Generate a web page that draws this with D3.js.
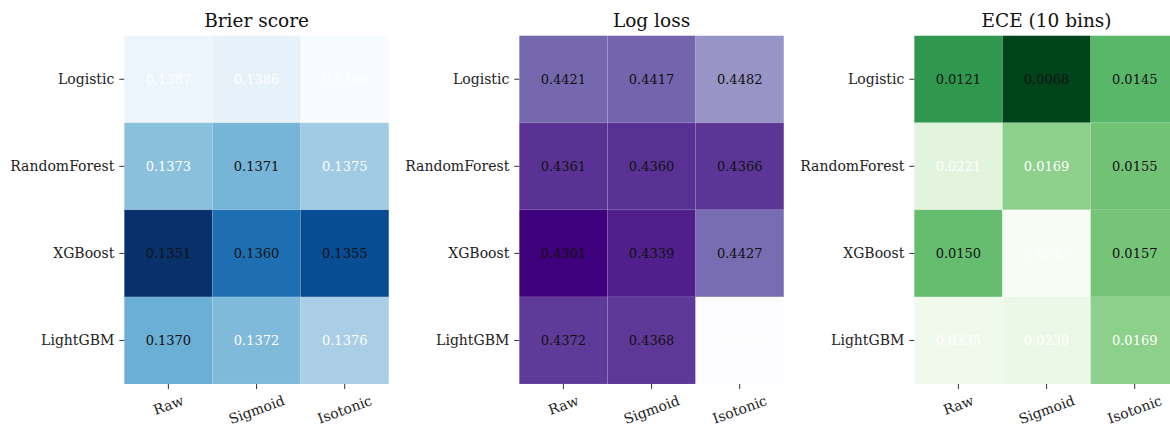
<!DOCTYPE html>
<html>
<head>
<meta charset="utf-8">
<script src="https://cdn.jsdelivr.net/npm/d3@7/dist/d3.min.js"></script>
<style>
  html, body { margin: 0; padding: 0; background: #fff; }
  svg { display: block; font-family: "DejaVu Serif", serif; }
</style>
</head>
<body>
<svg id="chart" width="1170" height="427"></svg>
<script>
// Models (rows) and calibration methods (columns)
const models = ["Logistic", "RandomForest", "XGBoost", "LightGBM"];
const methods = ["Raw", "Sigmoid", "Isotonic"];

// Metric values, one row per model, one column per method
const brierValues = [
  [0.1387, 0.1386, 0.1389],
  [0.1373, 0.1371, 0.1375],
  [0.1351, 0.1360, 0.1355],
  [0.1370, 0.1372, 0.1376]
];
const logLossValues = [
  [0.4421, 0.4417, 0.4482],
  [0.4361, 0.4360, 0.4366],
  [0.4301, 0.4339, 0.4427],
  [0.4372, 0.4368, 0.4683]
];
const eceValues = [
  [0.0121, 0.0068, 0.0145],
  [0.0221, 0.0169, 0.0155],
  [0.0150, 0.0245, 0.0157],
  [0.0235, 0.0230, 0.0169]
];

const panelTitles = ["Brier score", "Log loss", "ECE (10 bins)"];

const panels = [
  { title: panelTitles[0], values: brierValues, scheme: d3.schemeBlues[9] },
  { title: panelTitles[1], values: logLossValues, scheme: d3.schemePurples[9] },
  { title: panelTitles[2], values: eceValues, scheme: d3.schemeGreens[9] }
];

const svg = d3.select("#chart");
const panelLeft0 = 124.3, panelStep = 395, panelW = 264.5;
const panelTop = 35.7, panelH = 348.3;
const tickFont = 14;

panels.forEach((p, i) => {
  const left = panelLeft0 + i * panelStep;
  const g = svg.append("g").attr("transform", `translate(${left},${panelTop})`);

  const x = d3.scaleBand().domain(methods).range([0, panelW]).padding(0);
  const y = d3.scaleBand().domain(models).range([0, panelH]).padding(0);

  const flat = p.values.flat();
  const vmin = d3.min(flat), vmax = d3.max(flat);
  // reversed sequential ramp: lowest value darkest
  const ramp = d3.piecewise(d3.interpolateRgb, p.scheme);
  const norm = d3.scaleLinear().domain([vmin, vmax]).range([0, 1]);
  const color = v => ramp(1 - norm(v));

  const cells = [];
  models.forEach((m, r) => methods.forEach((c, k) => cells.push({ m, c, v: p.values[r][k] })));

  g.selectAll("rect.cell").data(cells).join("rect")
    .attr("class", "cell")
    .attr("x", d => x(d.c))
    .attr("y", d => y(d.m))
    .attr("width", x.bandwidth())
    .attr("height", y.bandwidth())
    .attr("fill", d => color(d.v))
    .attr("stroke", "rgba(255,255,255,0.08)")
    .attr("stroke-width", 1);

  g.selectAll("text.val").data(cells).join("text")
    .attr("class", "val")
    .attr("x", d => x(d.c) + x.bandwidth() / 2)
    .attr("y", d => y(d.m) + y.bandwidth() / 2)
    .attr("dy", "0.35em")
    .attr("text-anchor", "middle")
    .attr("font-size", 13)
    .attr("fill", d => norm(d.v) > 0.54 ? "#ffffff" : "#111111")
    .text(d => d.v.toFixed(4));

  // y axis
  const yAxis = g.append("g").call(d3.axisLeft(y).tickSize(5).tickPadding(5));
  yAxis.select(".domain").remove();
  yAxis.selectAll(".tick line").attr("stroke", "#333");
  yAxis.selectAll(".tick text")
    .attr("font-family", "DejaVu Serif, serif")
    .attr("font-size", tickFont)
    .attr("fill", "#222");

  // x axis, labels tilted 20 degrees and centred under each tick
  const xAxis = g.append("g").attr("transform", `translate(0,${panelH})`)
    .call(d3.axisBottom(x).tickSize(5).tickPadding(0));
  xAxis.select(".domain").remove();
  xAxis.selectAll(".tick line").attr("stroke", "#333");
  const angle = 20 * Math.PI / 180;
  xAxis.selectAll(".tick text")
    .attr("font-family", "DejaVu Serif, serif")
    .attr("font-size", tickFont)
    .attr("fill", "#222")
    .attr("text-anchor", "middle")
    .attr("dy", null)
    .each(function () {
      const t = d3.select(this);
      const w = this.getComputedTextLength();
      const h = tickFont * 0.95;
      const bh = w * Math.sin(angle) + h * Math.cos(angle);
      const cy = 9.5 + bh / 2;
      t.attr("y", 0)
        .attr("dominant-baseline", "central")
        .attr("transform", `translate(0,${cy}) rotate(-20)`);
    });

  // title
  g.append("text")
    .attr("x", panelW / 2)
    .attr("y", -9)
    .attr("text-anchor", "middle")
    .attr("font-size", 18.5)
    .attr("fill", "#111")
    .text(p.title);
});
</script>
</body>
</html>
